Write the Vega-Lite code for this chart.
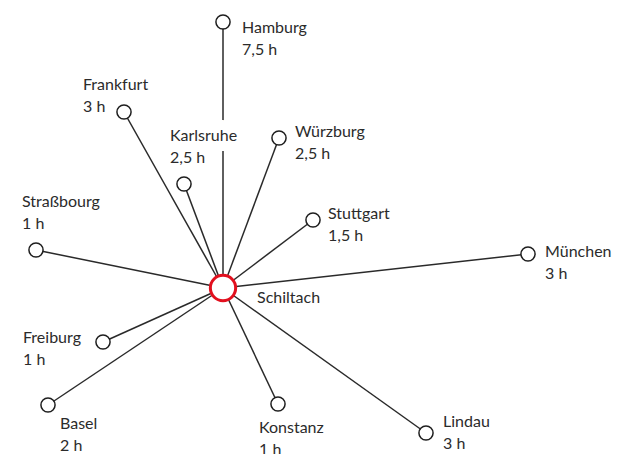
{
  "$schema": "https://vega.github.io/schema/vega-lite/v6.json",
  "width": 635,
  "height": 454,
  "padding": 0,
  "autosize": {"type": "none"},
  "background": "white",
  "config": {"view": {"stroke": null}},
  "datasets": {
    "cities": [
      {"city": "Hamburg", "time": "7,5 h", "x": 223, "y": 22, "lx": 242, "ly": 33, "hx": 223, "hy": 288},
      {"city": "Frankfurt", "time": "3 h", "x": 124, "y": 112, "lx": 83, "ly": 90, "hx": 223, "hy": 288},
      {"city": "Karlsruhe", "time": "2,5 h", "x": 184, "y": 184, "lx": 170, "ly": 141, "hx": 223, "hy": 288},
      {"city": "Würzburg", "time": "2,5 h", "x": 279, "y": 138, "lx": 295, "ly": 137, "hx": 223, "hy": 288},
      {"city": "Straßbourg", "time": "1 h", "x": 36, "y": 250, "lx": 22, "ly": 207, "hx": 223, "hy": 288},
      {"city": "Stuttgart", "time": "1,5 h", "x": 313, "y": 220, "lx": 328, "ly": 219, "hx": 223, "hy": 288},
      {"city": "München", "time": "3 h", "x": 528, "y": 254, "lx": 545, "ly": 257, "hx": 223, "hy": 288},
      {"city": "Freiburg", "time": "1 h", "x": 103, "y": 342, "lx": 23, "ly": 343, "hx": 223, "hy": 288},
      {"city": "Basel", "time": "2 h", "x": 48, "y": 405, "lx": 60, "ly": 429, "hx": 223, "hy": 288},
      {"city": "Konstanz", "time": "1 h", "x": 278, "y": 404, "lx": 259, "ly": 433, "hx": 223, "hy": 288},
      {"city": "Lindau", "time": "3 h", "x": 426, "y": 433, "lx": 443, "ly": 427, "hx": 223, "hy": 288}
    ],
    "hub": [
      {"city": "Schiltach", "x": 223, "y": 288, "lx": 257, "ly": 303}
    ]
  },
  "layer": [
    {
      "data": {"name": "cities"},
      "mark": {"type": "rule", "stroke": "#2a2a2a", "strokeWidth": 1.5},
      "encoding": {
        "x": {"field": "x", "type": "quantitative", "scale": {"domain": [0, 635], "nice": false, "zero": false}, "axis": null},
        "y": {"field": "y", "type": "quantitative", "scale": {"domain": [0, 454], "nice": false, "zero": false, "reverse": true}, "axis": null},
        "x2": {"field": "hx"},
        "y2": {"field": "hy"}
      }
    },
    {
      "data": {"name": "cities"},
      "transform": [{"filter": "datum.city === 'Karlsruhe'"}],
      "mark": {"type": "text", "align": "left", "baseline": "alphabetic", "font": "Lato", "fontSize": 16, "fill": "white", "stroke": "white", "strokeWidth": 20, "strokeJoin": "round"},
      "encoding": {
        "x": {"field": "lx", "type": "quantitative"},
        "y": {"field": "ly", "type": "quantitative"},
        "text": {"field": "city"}
      }
    },
    {
      "data": {"name": "cities"},
      "mark": {"type": "point", "shape": "circle", "size": 200, "filled": false, "fill": "white", "fillOpacity": 1, "stroke": "#1e1e1e", "strokeWidth": 1.5, "opacity": 1},
      "encoding": {
        "x": {"field": "x", "type": "quantitative"},
        "y": {"field": "y", "type": "quantitative"}
      }
    },
    {
      "data": {"name": "hub"},
      "mark": {"type": "point", "shape": "circle", "size": 640, "filled": false, "fill": "white", "fillOpacity": 1, "stroke": "#e2101e", "strokeWidth": 3, "opacity": 1},
      "encoding": {
        "x": {"field": "x", "type": "quantitative"},
        "y": {"field": "y", "type": "quantitative"}
      }
    },
    {
      "data": {"name": "cities"},
      "mark": {"type": "text", "align": "left", "baseline": "alphabetic", "font": "Lato", "fontSize": 16, "fill": "#2b2b2b"},
      "encoding": {
        "x": {"field": "lx", "type": "quantitative"},
        "y": {"field": "ly", "type": "quantitative"},
        "text": {"field": "city"}
      }
    },
    {
      "data": {"name": "cities"},
      "mark": {"type": "text", "align": "left", "baseline": "alphabetic", "font": "Lato", "fontSize": 16, "fill": "#2b2b2b", "dy": 22},
      "encoding": {
        "x": {"field": "lx", "type": "quantitative"},
        "y": {"field": "ly", "type": "quantitative"},
        "text": {"field": "time"}
      }
    },
    {
      "data": {"name": "hub"},
      "mark": {"type": "text", "align": "left", "baseline": "alphabetic", "font": "Lato", "fontSize": 16, "fill": "#2b2b2b"},
      "encoding": {
        "x": {"field": "lx", "type": "quantitative"},
        "y": {"field": "ly", "type": "quantitative"},
        "text": {"field": "city"}
      }
    }
  ]
}
